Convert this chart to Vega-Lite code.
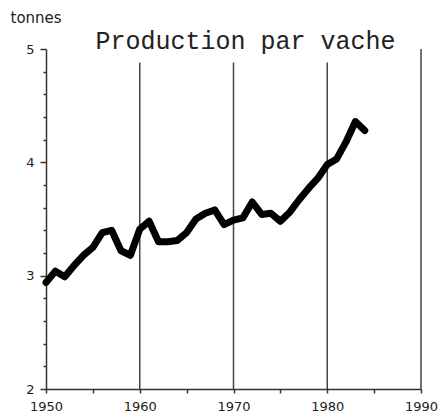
{
  "$schema": "https://vega.github.io/schema/vega-lite/v6.json",
  "width": 375,
  "height": 340,
  "autosize": "none",
  "padding": {"left": 46, "top": 49, "right": 18, "bottom": 28},
  "background": "white",
  "config": {"view": {"stroke": null}},
  "title": {
    "text": "Production par vache",
    "font": "Liberation Mono",
    "fontSize": 25,
    "fontWeight": "normal",
    "color": "#222",
    "anchor": "middle",
    "dx": 12,
    "offset": -44
  },
  "datasets": {
    "prod": [
      {"year": 1950, "t": 2.94}, {"year": 1951, "t": 3.04}, {"year": 1952, "t": 2.99},
      {"year": 1953, "t": 3.09}, {"year": 1954, "t": 3.18}, {"year": 1955, "t": 3.25},
      {"year": 1956, "t": 3.38}, {"year": 1957, "t": 3.40}, {"year": 1958, "t": 3.22},
      {"year": 1959, "t": 3.18}, {"year": 1960, "t": 3.41}, {"year": 1961, "t": 3.48},
      {"year": 1962, "t": 3.30}, {"year": 1963, "t": 3.30}, {"year": 1964, "t": 3.31},
      {"year": 1965, "t": 3.38}, {"year": 1966, "t": 3.50}, {"year": 1967, "t": 3.55},
      {"year": 1968, "t": 3.58}, {"year": 1969, "t": 3.45}, {"year": 1970, "t": 3.49},
      {"year": 1971, "t": 3.51}, {"year": 1972, "t": 3.65}, {"year": 1973, "t": 3.54},
      {"year": 1974, "t": 3.55}, {"year": 1975, "t": 3.48}, {"year": 1976, "t": 3.56},
      {"year": 1977, "t": 3.67}, {"year": 1978, "t": 3.77}, {"year": 1979, "t": 3.86},
      {"year": 1980, "t": 3.98}, {"year": 1981, "t": 4.03}, {"year": 1982, "t": 4.18},
      {"year": 1983, "t": 4.36}, {"year": 1984, "t": 4.28}
    ],
    "grid": [
      {"year": 1960, "t": 4.88}, {"year": 1970, "t": 4.88},
      {"year": 1980, "t": 4.88}, {"year": 1990, "t": 5}
    ]
  },
  "encoding": {
    "x": {
      "field": "year", "type": "quantitative",
      "scale": {"domain": [1950, 1990], "nice": false},
      "axis": {
        "title": null,
        "values": [1950, 1955, 1960, 1965, 1970, 1975, 1980, 1985, 1990],
        "labelExpr": "datum.value % 10 === 0 ? datum.label : ''",
        "format": "d",
        "grid": false,
        "domainColor": "#333", "domainWidth": 1.5,
        "tickColor": "#333", "tickWidth": 1.5, "tickSize": 4,
        "labelFont": "DejaVu Sans", "labelFontSize": 13, "labelColor": "#222",
        "labelPadding": 7, "labelFlush": false
      }
    },
    "y": {
      "field": "t", "type": "quantitative",
      "scale": {"domain": [2, 5], "nice": false, "zero": false},
      "axis": {
        "title": "tonnes",
        "titleAngle": 0, "titleAlign": "left", "titleBaseline": "alphabetic",
        "titleX": -36, "titleY": -27,
        "titleFont": "DejaVu Sans", "titleFontSize": 15, "titleFontWeight": "normal", "titleColor": "#222",
        "values": [2, 2.2, 2.4, 2.6, 2.8, 3, 3.2, 3.4, 3.6, 3.8, 4, 4.2, 4.4, 4.6, 4.8, 5],
        "labelExpr": "datum.value % 1 === 0 ? format(datum.value, 'd') : ''",
        "grid": false,
        "domainColor": "#333", "domainWidth": 1.5,
        "tickColor": "#333", "tickWidth": 1.5,
        "tickSize": {"condition": {"test": "datum.value % 1 === 0", "value": 6}, "value": 3},
        "labelFont": "DejaVu Sans", "labelFontSize": 13, "labelColor": "#222",
        "labelPadding": 6
      }
    }
  },
  "layer": [
    {
      "data": {"name": "grid"},
      "mark": {"type": "rule", "color": "#444", "strokeWidth": 1.5},
      "encoding": {
        "y2": {"datum": 2}
      }
    },
    {
      "data": {"name": "prod"},
      "mark": {"type": "line", "color": "#000", "strokeWidth": 7, "strokeJoin": "round", "strokeCap": "round"}
    }
  ]
}
